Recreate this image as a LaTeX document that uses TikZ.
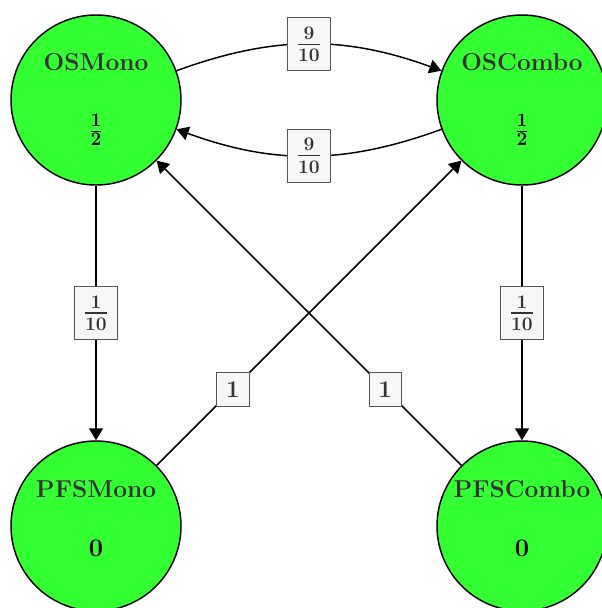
\documentclass[tikz,border=0pt]{standalone}
\usepackage{amsmath}
\usetikzlibrary{arrows.meta}
\definecolor{stategreen}{HTML}{33FF33}
\definecolor{txtgray}{HTML}{333333}
\definecolor{boxgray}{HTML}{555555}
\begin{document}
\begin{tikzpicture}[x=0.75pt,y=-0.75pt,
  state/.style={circle,draw=black,line width=1.1pt,fill=stategreen,minimum size=127.5pt,inner sep=0pt},
  sname/.style={text=txtgray,font=\fontsize{18.3pt}{21pt}\selectfont\bfseries,inner sep=0pt},
  sval/.style={text=black,font=\fontsize{19pt}{22pt}\selectfont\bfseries\boldmath,inner sep=0pt},
  elabel/.style={draw=boxgray,line width=0.6pt,fill=white!97!black,text=txtgray,inner sep=7pt,
     font=\fontsize{21pt}{24pt}\selectfont\bfseries\boldmath},
  onelabel/.style={elabel,font=\fontsize{18pt}{20pt}\selectfont\bfseries,inner sep=7pt},
  trans/.style={line width=1.1pt,-{Triangle[length=9pt,width=10.5pt]}}
]
\useasboundingbox (0,0) rectangle (602,608);
\node[state] (osm) at (96,100) {};
\node[state] (osc) at (522,100) {};
\node[state] (pfm) at (96,526) {};
\node[state] (pfc) at (522,526) {};
\node[sname] (osmn) at (96,62) {OSMono};
\node[sval] (osmv) at (96,130) {$\frac{1}{2}$};
\node[sname] (oscn) at (522,62) {OSCombo};
\node[sval] (oscv) at (522,130) {$\frac{1}{2}$};
\node[sname] (pfmn) at (96,489) {PFSMono};
\node[sval] (pfmv) at (96,548) {0};
\node[sname] (pfcn) at (522,489) {PFSCombo};
\node[sval] (pfcv) at (522,548) {0};
\draw[trans] (osm) to[bend left=20] node[elabel,pos=0.5] (l1) {$\frac{9}{10}$} (osc);
\draw[trans] (osc) to[bend left=20] node[elabel,pos=0.5] (l2) {$\frac{9}{10}$} (osm);
\draw[trans] (osm) -- node[elabel,pos=0.5] (l3) {$\frac{1}{10}$} (pfm);
\draw[trans] (osc) -- node[elabel,pos=0.5] (l4) {$\frac{1}{10}$} (pfc);
\draw[trans] (pfm) -- node[onelabel,pos=0.25] (l5) {1} (osc);
\draw[trans] (pfc) -- node[onelabel,pos=0.25] (l6) {1} (osm);
\end{tikzpicture}
\end{document}
